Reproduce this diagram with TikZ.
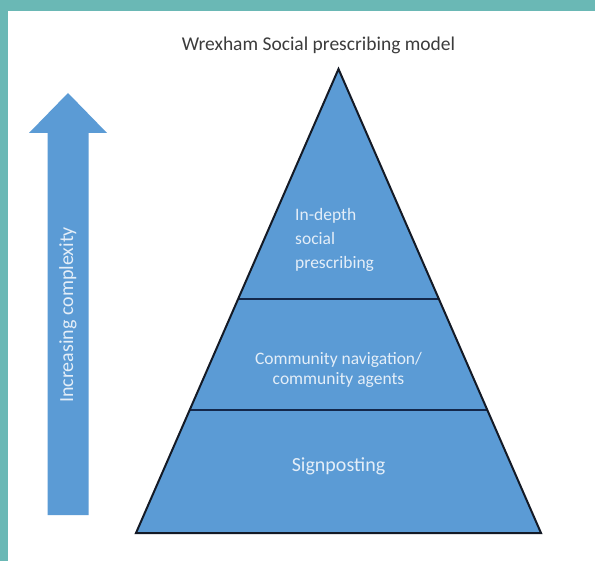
\documentclass[tikz,border=0pt]{standalone}
\usepackage{fontspec}
\setmainfont{Carlito}
\begin{document}
\begin{tikzpicture}[x=1pt,y=-1pt,
  lbl/.style={text=lbltext, inner sep=0pt, font=\fontsize{17.5}{20}\selectfont},
  sep/.style={draw=sepnavy, line width=2.2pt},
  outline/.style={draw=outl, line width=2pt, line join=miter}]
\definecolor{teal}{HTML}{6AB8B5}
\definecolor{pyrblue}{HTML}{5B9BD5}
\definecolor{lbltext}{HTML}{E4EEF8}
\definecolor{sepnavy}{HTML}{14284B}
\definecolor{outl}{HTML}{141A26}
\definecolor{titlegray}{HTML}{3C3C3C}
\useasboundingbox (0,0) rectangle (595,561);
\fill[teal] (0,0) rectangle (595,561);
\fill[white] (8,11) rectangle (595,561);
% title
\node[text=titlegray, inner sep=0pt, font=\fontsize{19.5}{22}\selectfont] (title) at (318.5,45) {Wrexham Social prescribing model};
% arrow
\fill[pyrblue] (47.5,515) -- (47.5,133) -- (29,133) -- (68,93) -- (107,133) -- (88.5,133) -- (88.5,515) -- cycle;
\node[lbl, rotate=90, font=\fontsize{20}{22}\selectfont] (arrowlbl) at (68,315) {Increasing complexity};
% pyramid
\coordinate (apex) at (338.5,69);
\coordinate (bl) at (136,533);
\coordinate (br) at (541,533);
\fill[pyrblue] (apex) -- (br) -- (bl) -- cycle;
\path (apex) -- (bl) coordinate[pos=0.4957] (ul) coordinate[pos=0.7349] (ll);
\path (apex) -- (br) coordinate[pos=0.4957] (ur) coordinate[pos=0.7349] (lr);
\draw[sep] (ul) -- (ur);
\draw[sep] (ll) -- (lr);
\draw[outline] (apex) -- (br) -- (bl) -- cycle;
% labels
\node[lbl, align=left, anchor=west, font=\fontsize{17.5}{24}\selectfont] (top) at (295,240) {In-depth\\social\\prescribing};
\node[lbl, align=center, font=\fontsize{17.5}{20}\selectfont] (mid) at (338.5,370) {Community navigation/\\community agents};
\node[lbl, font=\fontsize{20}{22}\selectfont] (bot) at (338.5,466) {Signposting};
\end{tikzpicture}
\end{document}
